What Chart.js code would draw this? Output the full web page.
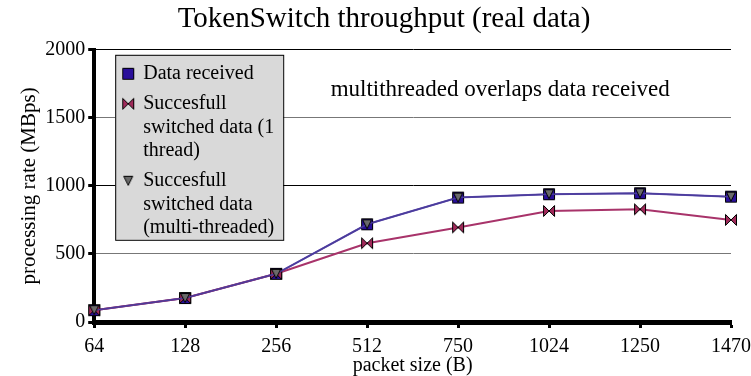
<!DOCTYPE html>
<html>
<head>
<meta charset="utf-8">
<script src="https://cdn.jsdelivr.net/npm/chart.js@4/dist/chart.umd.min.js"></script>
<style>
  html, body { margin: 0; padding: 0; background: #fff; }
  #wrap { width: 751px; height: 376px; }
</style>
</head>
<body>
<div id="wrap"><canvas id="tputChart"></canvas></div>
<script>
// packet sizes (B) and processing rates (MBps)
var packetSizes = ["64", "128", "256", "512", "750", "1024", "1250", "1470"];
var dataReceived = [87, 176, 354, 718, 914, 939, 946, 921];
var oneThread = [87, 176, 354, 579, 695, 816, 828, 750];
var multiThread = [87, 176, 354, 718, 914, 939, 946, 921];
var seriesLabels = [
  ["Data received"],
  ["Succesfull", "switched data (1", "thread)"],
  ["Succesfull", "switched data", "(multi-threaded)"]
];
var yTicks = [0, 500, 1000, 1500, 2000];

var serif = "'Liberation Serif', 'DejaVu Serif', serif";

function makeMarker(kind, fill, size) {
  var c = document.createElement("canvas");
  c.width = size; c.height = size;
  var g = c.getContext("2d");
  var s = size - 1.5;
  var m = size / 2;
  g.fillStyle = fill;
  g.strokeStyle = "#000";
  g.lineWidth = 1;
  g.beginPath();
  if (kind === "square") {
    g.rect(1.5, 1.5, s - 1.5, s - 1.5);
  } else if (kind === "bowtie") {
    g.moveTo(1.5, 1.5); g.lineTo(m, m); g.lineTo(1.5, s); g.closePath();
    g.moveTo(s, 1.5); g.lineTo(m, m); g.lineTo(s, s); g.closePath();
  } else {
    g.moveTo(1.5, 1.5); g.lineTo(s, 1.5); g.lineTo(m, s); g.closePath();
  }
  g.fill();
  g.stroke();
  return c;
}

var markers = [
  makeMarker("square", "#2a0f9a", 14),
  makeMarker("bowtie", "#a02a5a", 14),
  makeMarker("triangle", "#6a6a6a", 12)
];

// boxed legend inside the plot + note text
var boxLegend = {
  id: "boxLegend",
  afterDraw: function (chart) {
    var ctx = chart.ctx;
    var a = chart.chartArea;
    var x0 = a.left + 21, y0 = a.top + 5, w = 168, h = 185;
    ctx.save();
    ctx.fillStyle = "#d9d9d9";
    ctx.fillRect(x0, y0, w, h);
    ctx.strokeStyle = "#000";
    ctx.lineWidth = 1;
    ctx.strokeRect(x0 + 0.5, y0 + 0.5, w, h);
    ctx.font = "20px " + serif;
    ctx.fillStyle = "#000";
    ctx.textBaseline = "middle";
    var y = y0 + 19;
    for (var i = 0; i < seriesLabels.length; i++) {
      var mk = markers[i];
      ctx.drawImage(mk, x0 + 13 - mk.width / 2, y - mk.height / 2);
      for (var j = 0; j < seriesLabels[i].length; j++) {
        ctx.fillText(seriesLabels[i][j], x0 + 28, y + j * 23.5);
      }
      y += seriesLabels[i].length * 23.5 + 6.5;
    }
    ctx.font = "23px " + serif;
    ctx.textAlign = "center";
    ctx.fillText("multithreaded overlaps data received", a.left + 406, a.top + 40);
    ctx.restore();
  }
};

var ctx = document.getElementById("tputChart").getContext("2d");
var tputChart = new Chart(ctx, {
  type: "line",
  data: {
    labels: packetSizes,
    datasets: [
      {
        label: seriesLabels[0].join(" "),
        data: dataReceived,
        borderColor: "#6650b0",
        borderWidth: 2,
        pointStyle: markers[0],
        order: 2,
        tension: 0
      },
      {
        label: seriesLabels[1].join(" "),
        data: oneThread,
        borderColor: "#a8336a",
        borderWidth: 2,
        pointStyle: markers[1],
        order: 1,
        tension: 0
      },
      {
        label: seriesLabels[2].join(" "),
        data: multiThread,
        borderColor: "#4a3c9c",
        borderWidth: 1.5,
        pointStyle: markers[2],
        order: 0,
        tension: 0
      }
    ]
  },
  options: {
    responsive: true,
    maintainAspectRatio: false,
    animation: false,
    layout: { padding: { left: 17, right: 0, top: 0, bottom: -2 } },
    plugins: {
      legend: { display: false },
      tooltip: { enabled: false },
      title: {
        display: true,
        text: "TokenSwitch throughput (real data)",
        color: "#000",
        font: { family: serif, size: 29, weight: "normal" },
        padding: { top: 2, bottom: 13 }
      }
    },
    scales: {
      x: {
        offset: false,
        afterFit: function (scale) { scale.paddingRight = 20; },
        grid: { drawOnChartArea: false, tickLength: 6, tickWidth: 3, tickColor: "#000" },
        border: { color: "#000", width: 5 },
        ticks: { color: "#000", font: { family: serif, size: 20 }, maxRotation: 0, padding: 7 },
        title: {
          display: true,
          text: "packet size (B)",
          color: "#000",
          font: { family: serif, size: 20 },
          padding: { top: -12, bottom: 0 }
        }
      },
      y: {
        min: 0,
        max: 2000,
        afterBuildTicks: function (scale) {
          scale.ticks = yTicks.map(function (v) { return { value: v }; });
        },
        grid: {
          color: function (c) {
            return (c.tick && (c.tick.value === 1000 || c.tick.value === 2000)) ? "#000" : "#777";
          },
          lineWidth: 1,
          tickLength: 6,
          tickWidth: 3,
          tickColor: "#000"
        },
        border: { color: "#000", width: 4 },
        ticks: {
          color: "#000",
          font: { family: serif, size: 20 },
          padding: 3,
          callback: function (v) { return String(v); }
        },
        title: {
          display: true,
          text: "processing rate (MBps)",
          color: "#000",
          font: { family: serif, size: 21 },
          padding: { top: 0, bottom: 0 }
        }
      }
    }
  },
  plugins: [boxLegend]
});
</script>
</body>
</html>
